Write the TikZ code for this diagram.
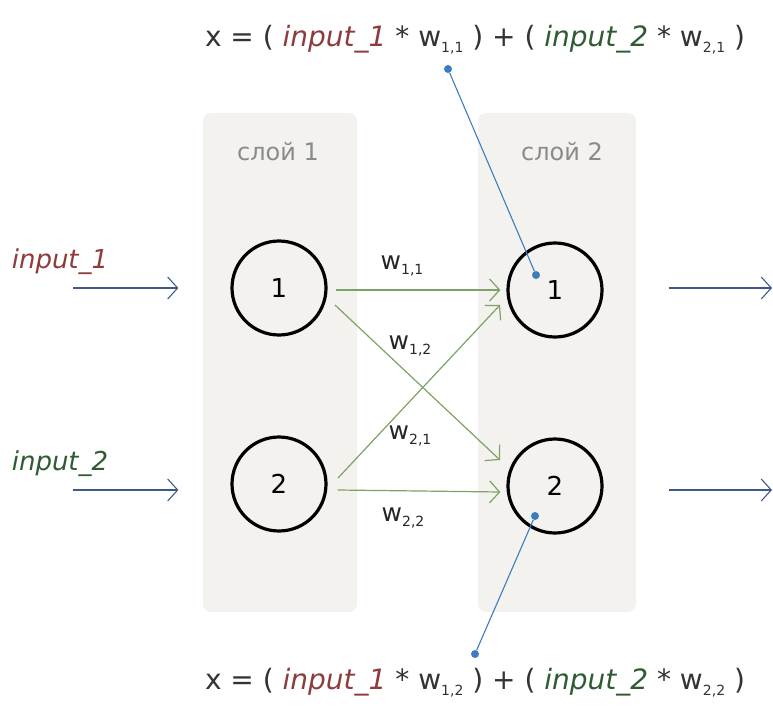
\documentclass[tikz,border=0pt]{standalone}
\usepackage{fontspec}
\setmainfont{DejaVu Sans}
\usetikzlibrary{arrows.meta}

\definecolor{inOneColour}{HTML}{8E3B3B}
\definecolor{inTwoColour}{HTML}{2F5B32}
\definecolor{weightColour}{HTML}{7EA265}
\definecolor{pointerColour}{HTML}{3C7DC2}
\definecolor{signalColour}{HTML}{3E5987}
\definecolor{layerColour}{HTML}{F3F2EF}
\definecolor{captionColour}{HTML}{8A8A8A}

\newcommand{\wsub}[1]{w\raisebox{-0.4ex}{\fontsize{14}{15}\selectfont #1}}

\tikzset{
  neuron/.style={circle, draw=black, line width=3.2pt, minimum size=94pt, inner sep=0pt, font=\fontsize{26}{30}\selectfont},
  layerbox/.style={fill=layerColour, draw=none, rounded corners=8pt},
  signal/.style={signalColour, line width=1.1pt, -{Straight Barb[length=10pt,width=22pt]}},
  weight/.style={weightColour, line width=1.2pt, -{Straight Barb[length=10pt,width=22pt]}},
  pointer/.style={pointerColour, line width=1.1pt},
  tip/.style={circle, fill=pointerColour, inner sep=0pt, minimum size=8pt},
  formula/.style={font=\fontsize{28}{33}\selectfont, text=black!80},
  wlabel/.style={font=\fontsize{25}{30}\selectfont, text=black!85},
  caption/.style={text=captionColour, font=\fontsize{24}{28}\selectfont}
}

\begin{document}
\begin{tikzpicture}[x=1pt, y=-1pt]
    \useasboundingbox (0,0) rectangle (773,706);

    % Layer backgrounds
    \fill[layerbox] (203,113) rectangle (357,612);
    \fill[layerbox] (478,113) rectangle (636,612);
    \node[caption] (cap1) at (278,152) {слой 1};
    \node[caption] (cap2) at (562,152) {слой 2};

    % Neurons
    \node[neuron] (a1) at (279,288) {1};
    \node[neuron] (a2) at (279,484) {2};
    \node[neuron] (b1) at (555,290) {1};
    \node[neuron] (b2) at (555,486) {2};

    % Inputs
    \node[text=inOneColour, font=\fontsize{26}{30}\selectfont\itshape] (in1) at (60,262) {input\_1};
    \node[text=inTwoColour, font=\fontsize{26}{30}\selectfont\itshape] (in2) at (60,464) {input\_2};
    \coordinate (s1) at (73,288);
    \coordinate (s2) at (73,490);
    \draw[signal] (s1) -- ([shift={(-52,0)}]a1.west);
    \draw[signal] (s2) -- ([shift={(-52,6)}]a2.west);

    % Outputs
    \coordinate (o1) at (772,288);
    \coordinate (o2) at (772,490);
    \draw[signal] ([shift={(65,-2)}]b1.east) -- (o1);
    \draw[signal] ([shift={(65,4)}]b2.east) -- (o2);

    % Weights
    \draw[weight] ([shift={(8,2)}]a1.east) -- ([shift={(-6,0)}]b1.west);
    \draw[weight] ([shift={(56,17)}]a1.center) -- ([shift={(-55,-26)}]b2.center);
    \draw[weight] ([shift={(59,-6)}]a2.center) -- ([shift={(-55,15)}]b1.center);
    \draw[weight] ([shift={(10,6)}]a2.east) -- ([shift={(-6,6)}]b2.west);
    \node[wlabel] (w11) at (402,266) {\wsub{1,1}};
    \node[wlabel] (w12) at (410,346) {\wsub{1,2}};
    \node[wlabel] (w21) at (410,436) {\wsub{2,1}};
    \node[wlabel] (w22) at (403,518) {\wsub{2,2}};

    % Formulas
    \node[formula] (f1) at (475,40) {x = ( \textcolor{inOneColour}{\itshape input\_1} * \wsub{1,1} ) + ( \textcolor{inTwoColour}{\itshape input\_2} * \wsub{2,1} )};
    \node[formula] (f2) at (475,683) {x = ( \textcolor{inOneColour}{\itshape input\_1} * \wsub{1,2} ) + ( \textcolor{inTwoColour}{\itshape input\_2} * \wsub{2,2} )};

    % Pointers
    \node[tip] (p1) at (448,69) {};
    \node[tip] (q1) at (536,275) {};
    \node[tip] (p2) at (475,654) {};
    \node[tip] (q2) at (535,516) {};
    \draw[pointer] (p1) -- (q1);
    \draw[pointer] (p2) -- (q2);
\end{tikzpicture}
\end{document}
